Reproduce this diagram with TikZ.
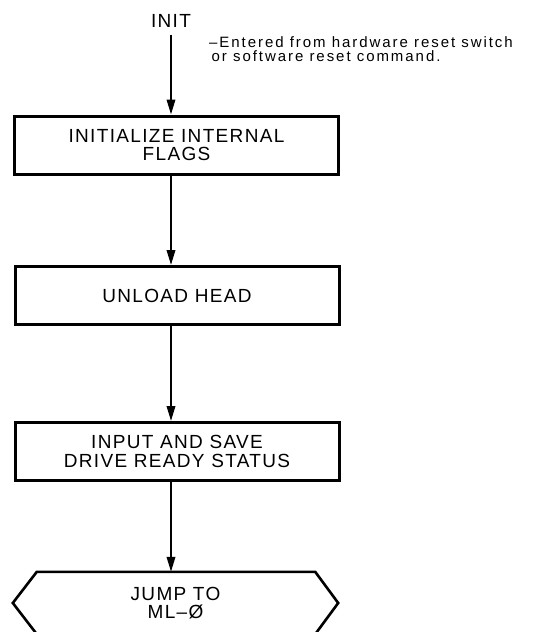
\documentclass[tikz,border=0pt]{standalone}
\usepackage{fontspec}
\setmainfont{Liberation Sans}
\newfontfamily\boxfont[LetterSpace=7]{Liberation Sans}
\newfontfamily\notefont[LetterSpace=13]{Liberation Sans}
\usetikzlibrary{arrows.meta}
\begin{document}
\begin{tikzpicture}[x=1pt,y=-1pt,
  flowbox/.style={draw, line width=3pt, minimum width=324pt, minimum height=58pt,
    inner sep=0pt, align=center, font=\boxfont\fontsize{19}{18.5}\selectfont},
  termtext/.style={inner sep=0pt, font=\boxfont\fontsize{19}{18.5}\selectfont},
  hexnode/.style={minimum width=325pt, minimum height=62pt, inner sep=0pt,
    align=center, font=\boxfont\fontsize{19}{18.5}\selectfont},
  hexline/.style={line width=2.6pt, line join=miter},
  notetext/.style={inner sep=0pt, align=left, font=\notefont\fontsize{15}{14}\selectfont},
  flowarrow/.style={line width=2pt, -{Triangle[length=15pt,width=8.5pt]}}]
\useasboundingbox (0,0) rectangle (545,632);
\fill[white] (0,0) rectangle (545,632);

\node[termtext] (init) at (171,20.5) {INIT};
\node[notetext, anchor=north west] (note) at (209,36)
  {–Entered from hardware reset switch\\\,or software reset command.};

\node[flowbox] (box1) at (176.5,145) {INITIALIZE INTERNAL\\FLAGS};
\node[flowbox] (box2) at (177,295.5) {UNLOAD HEAD};
\node[flowbox] (box3) at (177,451.5) {INPUT AND SAVE\\DRIVE READY STATUS};
\node[hexnode] (jump) at (175.5,603) {JUMP TO\\ML–Ø};
\draw[hexline] (jump.west) -- ([xshift=24pt]jump.north west) -- ([xshift=-23pt]jump.north east)
  -- (jump.east) -- ([xshift=-23pt]jump.south east) -- ([xshift=24pt]jump.south west) -- cycle;

\draw[flowarrow] (init.south) ++(0,8) -- (init |- box1.north);
\draw[flowarrow] (box1.south -| init) -- (box2.north -| init);
\draw[flowarrow] (box2.south -| init) -- (box3.north -| init);
\draw[flowarrow] (box3.south -| init) -- (jump.north -| init);
\end{tikzpicture}
\end{document}
